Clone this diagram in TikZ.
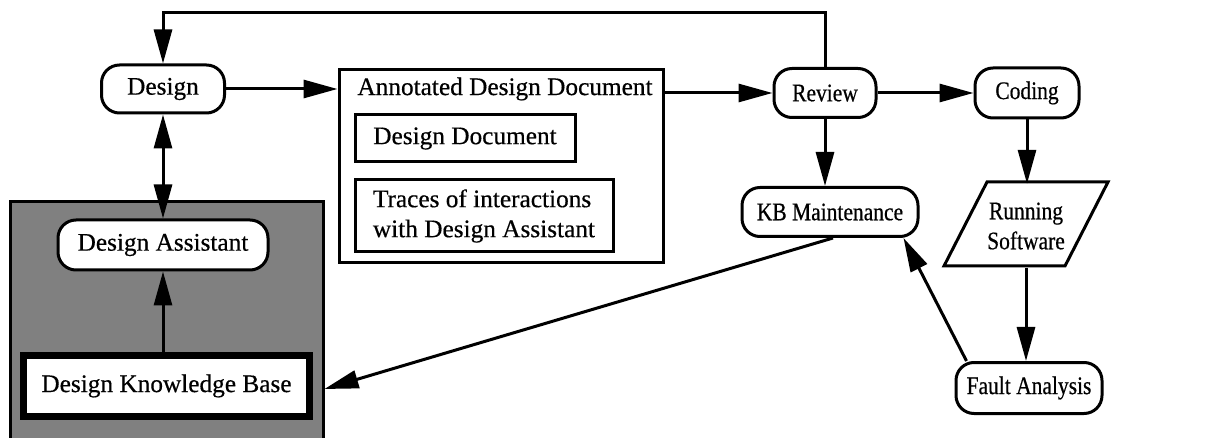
\documentclass[tikz,border=0pt]{standalone}
\usepackage{fontspec}
\setmainfont{Liberation Serif}[FakeBold=0.5]
\newfontfamily\narrowserif{Liberation Serif}[FakeStretch=0.85,FakeBold=0.5]
\usetikzlibrary{arrows.meta,calc}
\begin{document}
\begin{tikzpicture}[x=1pt,y=-1pt,
  every node/.style={font=\fontsize{25.3}{30}\selectfont},
  narrow/.style={font=\narrowserif\fontsize{25.3}{30}\selectfont},
  pill/.style={draw, line width=3pt, rounded corners=18pt, fill=white, inner sep=0pt, align=center},
  box/.style={draw, line width=3pt, inner sep=0pt, fill=white},
  tip/.tip={Triangle[length=34pt,width=18pt]},
  arr/.style={line width=3pt, -tip},
  darr/.style={line width=3pt, tip-tip}]
\useasboundingbox (0,0) rectangle (1213,438);

% shaded area holding the assistant and its knowledge base
\node[draw, line width=3pt, fill=black!50, inner sep=0pt, minimum width=313, minimum height=243] (kbarea) at (166.5,323.5) {};

% nodes
\node[pill, minimum width=123, minimum height=48] (design) at (163,89) {Design};
\node[box, minimum width=324, minimum height=193] (annot) at (501,166.5) {};
\node (annottitle) at (505,89) {Annotated Design Document};
\node[box, minimum width=220, minimum height=47] (ddoc) at (465,138.5) {Design Document};
\node[box, minimum width=258, minimum height=72, align=left] (traces) at (484,216) {Traces of interactions\\with Design Assistant};
\node[pill, narrow, minimum width=102, minimum height=49] (review) at (825,93) {Review};
\node[pill, narrow, minimum width=104, minimum height=50] (coding) at (1027,93) {Coding};
\node[pill, narrow, minimum width=176, minimum height=49] (kbm) at (830,212) {KB Maintenance};
\draw[line width=3pt, line join=miter] (944,266) -- (987,182) -- (1108,182) -- (1065,266) -- cycle;
\node[narrow, inner sep=0pt, minimum height=84, align=center] (run) at (1026,226) {Running\\Software};
\node[pill, narrow, minimum width=146, minimum height=51] (fault) at (1029,388) {Fault Analysis};
\node[pill, minimum width=210, minimum height=50] (da) at (163,245) {Design Assistant};
\node[draw, line width=7pt, fill=white, inner sep=0pt, minimum width=286, minimum height=61] (dkb) at (166.5,386) {Design Knowledge Base};

% connectors
\coordinate (topy) at (0,13);
\draw[arr] (review.north) -- (review.north |- topy) -| (design.north);
\draw[arr] (design.east) -- (design.east -| annot.west);
\draw[arr] (review.west -| annot.east) -- (review.west);
\draw[arr] (review.east) -- (coding.west);
\draw[arr] (review.south) -- (review.south |- kbm.north);
\draw[arr] (coding.south) -- (coding.south |- run.north);
\draw[arr] (run.south) -- (run.south |- fault.north);
\draw[arr] ([xshift=12pt]fault.north west) -- ([xshift=-16pt]kbm.south east);
\draw[arr] ([xshift=3pt]kbm.south) -- ([yshift=-3pt]kbarea.east |- dkb.east);
\draw[arr] (da.south |- dkb.north) -- (da.south);
\draw[darr] (design.south) -- (da.north);
\end{tikzpicture}
\end{document}
